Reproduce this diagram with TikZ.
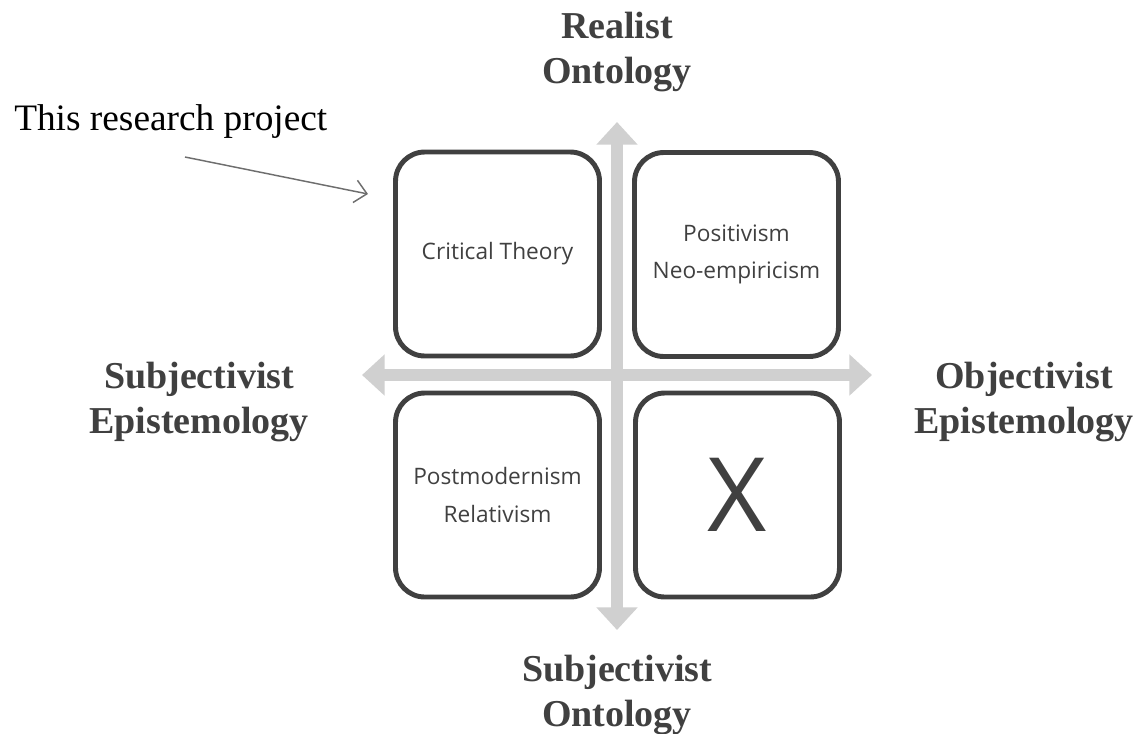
\documentclass[tikz,border=0pt]{standalone}
\usepackage{fontspec}
\setmainfont{Liberation Serif}
\newfontfamily\boxfont{Open Sans}
\usetikzlibrary{arrows.meta}
\definecolor{ink}{HTML}{404040}
\definecolor{axisgray}{HTML}{D0D0D0}
\definecolor{pointer}{HTML}{6E6E6E}

\tikzset{
  quad/.style={draw=ink, line width=3.7pt, rounded corners=22pt,
    minimum width=153pt, minimum height=153pt, inner sep=0pt,
    align=center, text=ink, font=\boxfont\fontsize{17}{28}\selectfont},
  axislabel/.style={align=center, text=ink, inner sep=0pt,
    font=\bfseries\fontsize{28.5}{34}\selectfont},
  axisline/.style={draw=axisgray, line width=9pt,
    {Triangle[width=30pt,length=17pt]}-{Triangle[width=30pt,length=17pt]}},
  ptr/.style={draw=pointer, line width=1.1pt,
    -{Straight Barb[length=9pt,width=17pt,line width=1.1pt]}}
}

\begin{document}
\begin{tikzpicture}[x=0.75pt,y=-0.75pt]
\useasboundingbox (0,0) rectangle (1142,733);

% axis end points
\coordinate (axT) at (617,122);
\coordinate (axB) at (617,630);
\coordinate (axL) at (362,375);
\coordinate (axR) at (872,375);

% the two axes
\draw[axisline] (axB) -- (axT);
\draw[axisline] (axL) -- (axR);

% four quadrants
\node[quad] (tl) at (497.5,254) {Critical Theory};
\node[quad] (tr) at (736.5,254.5) {Positivism\\Neo-empiricism};
\node[quad] (bl) at (497.5,495) {Postmodernism\\Relativism};
\node[quad, font=\boxfont\fontsize{77}{80}\selectfont] (br) at (737.5,495) {X};

% axis labels
\node[axislabel] (top) at (617,52) {Realist\\Ontology};
\node[axislabel] (bottom) at (617,695) {Subjectivist\\Ontology};
\node[axislabel] (left) at (199,402) {Subjectivist\\Epistemology};
\node[axislabel] (right) at (1024,402) {Objectivist\\Epistemology};

% pointer to this project's position
\node[anchor=base west, inner sep=0pt, font=\fontsize{28}{34}\selectfont] (proj) at (14,130) {This research project};
\coordinate (ptrS) at (185,157);
\coordinate (ptrE) at (368,194);
\draw[ptr] (ptrS) -- (ptrE);
\end{tikzpicture}
\end{document}
